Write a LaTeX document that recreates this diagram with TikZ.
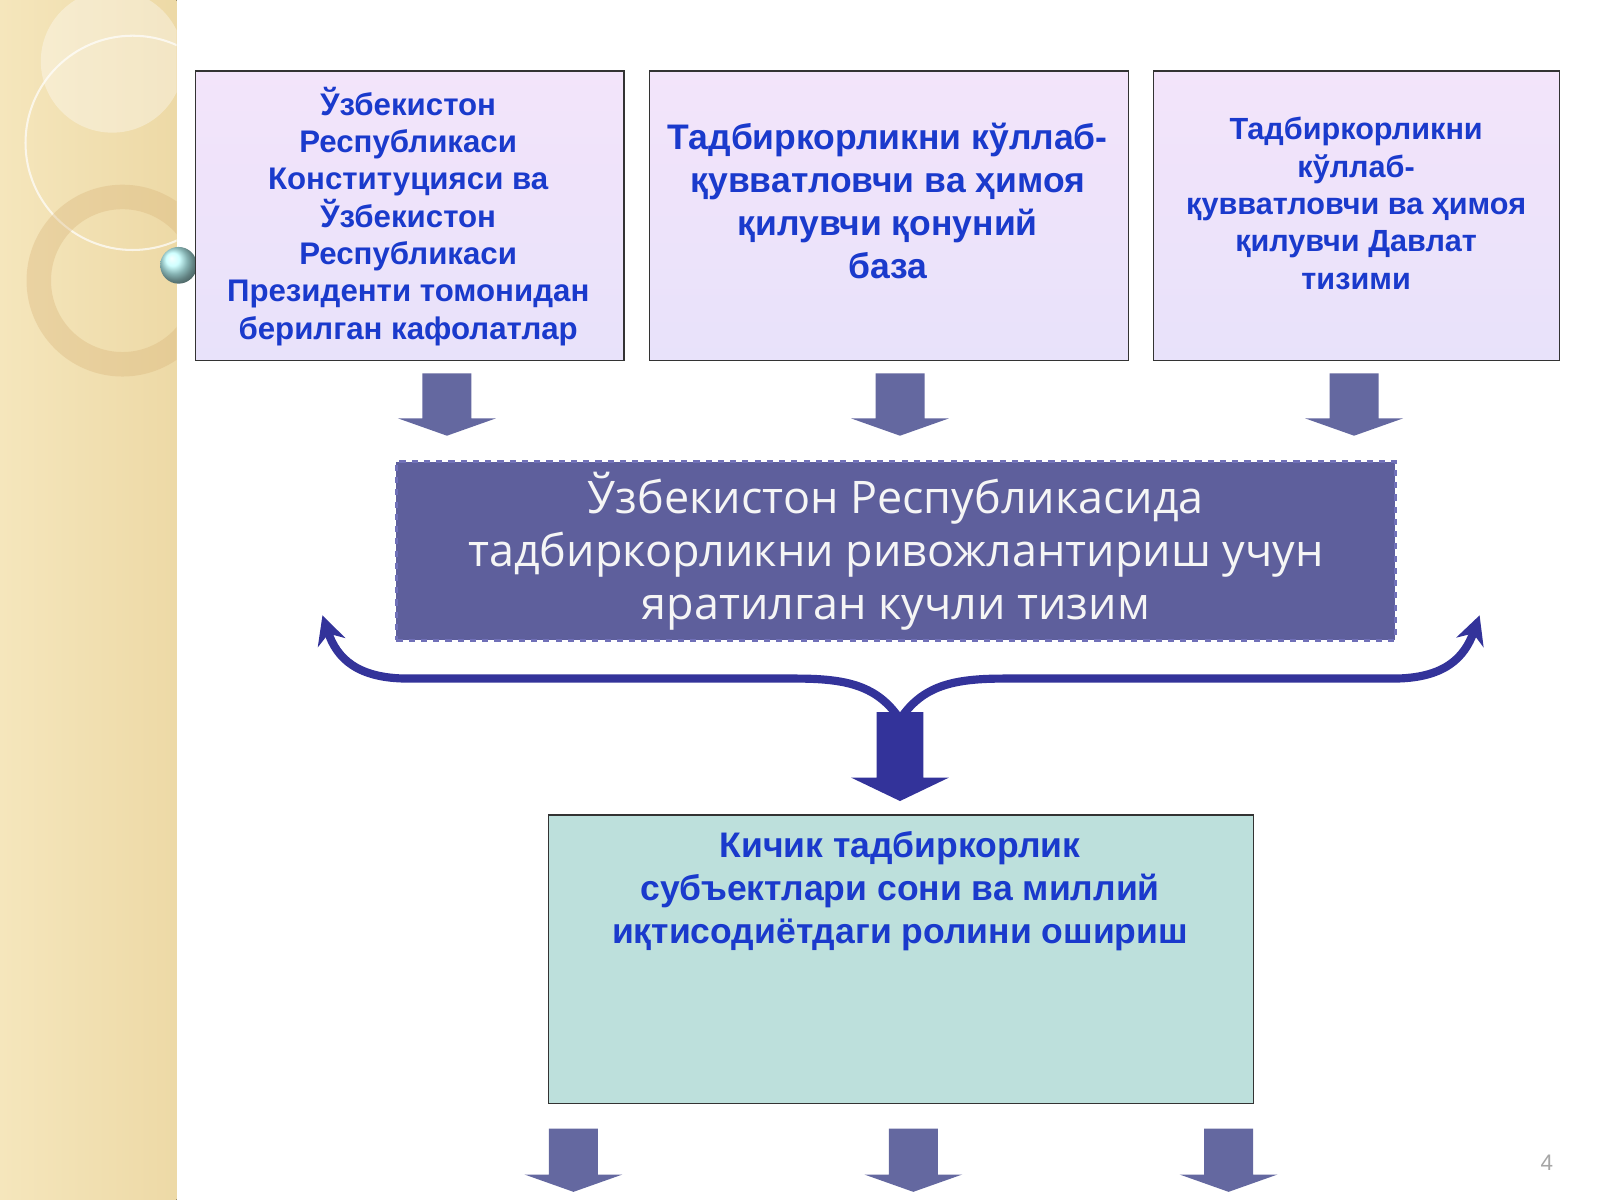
\documentclass[tikz,border=0pt]{standalone}
\usepackage{fontspec}
\setmainfont{Liberation Sans}
\newfontfamily\osans{Open Sans}
\usetikzlibrary{arrows.meta}
\definecolor{txtblue}{HTML}{1A3ACC}
\definecolor{arr}{HTML}{6468A0}
\definecolor{midbox}{HTML}{5E5F9C}
\definecolor{curl}{HTML}{33339A}
\definecolor{beigeA}{HTML}{F5E6BC}
\definecolor{beigeB}{HTML}{EDD9A6}
\definecolor{lavA}{HTML}{F3E4FA}
\definecolor{lavB}{HTML}{E8E2FA}
\definecolor{teal0}{HTML}{BDE0DC}
\begin{document}
\begin{tikzpicture}[x=0.5pt,y=-0.5pt,
 topbox/.style={draw=black!80,line width=0.6pt,top color=lavA,bottom color=lavB,anchor=north west,inner sep=0pt,minimum height=142pt},
 toptext/.style={align=center,text=txtblue,anchor=north},
 blk/.style={fill=arr}]
\useasboundingbox (0,0) rectangle (1568,1176);
\fill[white] (0,0) rectangle (1568,1176);
\fill[left color=beigeA,right color=beigeB] (0,0) rectangle (173,1176);
\begin{scope}
\clip (0,0) rectangle (173,1176);
\draw[white,opacity=0.7,line width=1pt] (130,140) circle (105);
\draw[beigeB!80!orange!90!black,opacity=0.35,line width=12pt] (120,275) circle (82);
\fill[white,opacity=0.35] (110,60) circle (70);
\end{scope}
\shade[ball color=cyan!25] (175,260) circle (18);
\draw[gray!50,line width=1pt] (204,236) circle (5);
% top boxes
\node[topbox,minimum width=210pt] (b1) at (191,69) {};
\node[topbox,minimum width=234.5pt] (b2) at (636,69) {};
\node[topbox,minimum width=199pt] (b3) at (1130,69) {};
\node[toptext,font=\bfseries\fontsize{15.3}{18.3}\selectfont] (t1) at (400,78) {Ўзбекистон\\Республикаси\\Конституцияси ва\\Ўзбекистон\\Республикаси\\Президенти томонидан\\берилган кафолатлар};
\node[toptext,font=\bfseries\fontsize{17.4}{21}\selectfont] (t2) at (870,114) {Тадбиркорликни кўллаб-\\қувватловчи ва ҳимоя\\қилувчи қонуний\\база};
\node[toptext,font=\bfseries\fontsize{15}{18.3}\selectfont] (t3) at (1329,108) {Тадбиркорликни\\кўллаб-\\қувватловчи ва ҳимоя\\қилувчи Давлат\\тизими};
% small arrows
\foreach \x/\ya/\yb in {438/366/427,882/366/427,1327/366/427,562/1106/1168,895/1106/1168,1204/1106/1168}{
 \fill[blk] (\x-24,\ya) -- (\x+24,\ya) -- (\x+24,\yb-17) -- (\x+48,\yb-17) -- (\x,\yb) -- (\x-48,\yb-17) -- (\x-24,\yb-17) -- cycle;}
% middle box
\node[draw=curl!70,dashed,line width=1.5pt,fill=midbox,minimum width=489.5pt,minimum height=87.5pt,anchor=north west,inner sep=0pt,align=center,text=white!92!gray,font=\osans\fontsize{22}{26}\selectfont] (m) at (387,451) {Ўзбекистон Республикасида\\тадбиркорликни ривожлантириш учун\\яратилган кучли тизим};
% curly arrows
\coordinate (c) at (882,705);
\coordinate (l) at (316,603);
\coordinate (r) at (1450,603);
\draw[curl,line width=4pt,-{Stealth[length=14pt,width=14pt]}] (c) .. controls (860,672) and (830,665) .. (780,665) -- (400,665) .. controls (350,665) and (330,645) .. (l);
\draw[curl,line width=4pt,-{Stealth[length=14pt,width=14pt]}] (c) .. controls (904,672) and (934,665) .. (984,665) -- (1365,665) .. controls (1415,665) and (1435,645) .. (r);
\fill[curl] (859,698) -- (905,698) -- (905,762) -- (930,762) -- (882,785) -- (834,762) -- (859,762) -- cycle;
% bottom box
\node[draw=black!80,line width=0.6pt,fill=teal0,minimum width=345.5pt,minimum height=141.5pt,anchor=north west,inner sep=0pt] (bb) at (537,798) {};
\node[align=center,text=txtblue,font=\bfseries\fontsize{17.4}{21}\selectfont,anchor=north] (bt) at (882,808) {Кичик тадбиркорлик\\субъектлари сони ва миллий\\иқтисодиётдаги ролини ошириш};
\node[text=gray!70,font=\fontsize{11}{13}\selectfont] (pn) at (1516,1140) {4};
\end{tikzpicture}
\end{document}
